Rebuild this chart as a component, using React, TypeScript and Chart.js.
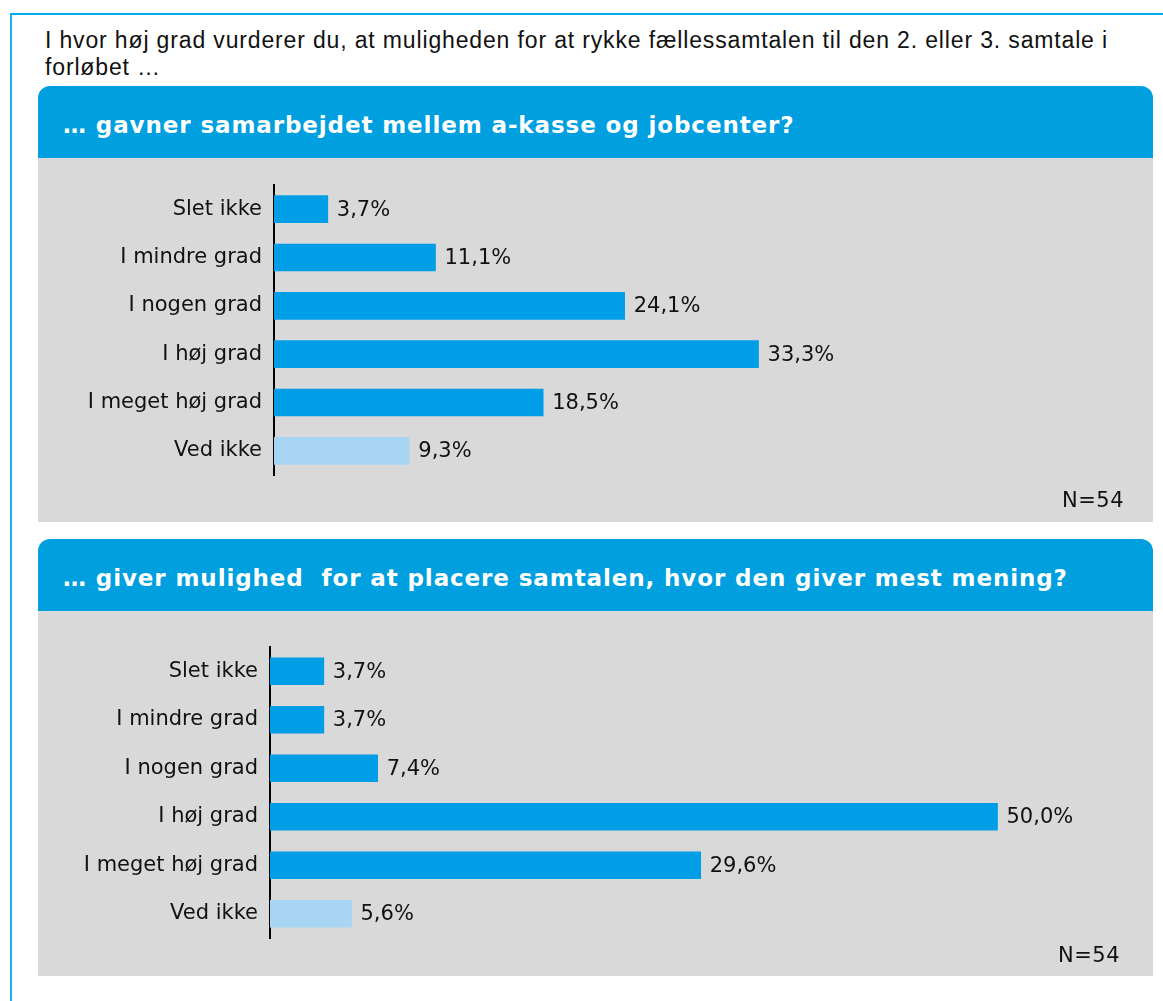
import React, { useEffect, useRef } from "react";
import { Chart, registerables } from "chart.js";

Chart.register(...registerables);

const categories = ["Slet ikke", "I mindre grad", "I nogen grad", "I høj grad", "I meget høj grad", "Ved ikke"];
const values1 = [3.7, 11.1, 24.1, 33.3, 18.5, 9.3];
const values2 = [3.7, 3.7, 7.4, 50.0, 29.6, 5.6];
const barColors = ["#009EE6", "#009EE6", "#009EE6", "#009EE6", "#009EE6", "#A8D5F4"];
const questionLine1 = "I hvor høj grad vurderer du, at muligheden for at rykke fællessamtalen til den 2. eller 3. samtale i";
const questionLine2 = "forløbet …";
const title1 = "… gavner samarbejdet mellem a-kasse og jobcenter?";
const title2 = "… giver mulighed  for at placere samtalen, hvor den giver mest mening?";
const nLabel = "N=54";

const LABEL_FONT = "DejaVu Sans";
const LABEL_SIZE = 21;

const fmt = (v: number) => v.toFixed(1).replace(".", ",") + "%";

const valueLabels = {
  id: "valueLabels",
  afterDatasetsDraw(chart: any) {
    const ctx = chart.ctx;
    ctx.save();
    ctx.font = `${LABEL_SIZE}px "${LABEL_FONT}"`;
    ctx.fillStyle = "#111";
    ctx.textAlign = "left";
    ctx.textBaseline = "middle";
    chart.data.datasets.forEach((ds: any, di: number) => {
      const meta = chart.getDatasetMeta(di);
      meta.data.forEach((bar: any, i: number) => {
        ctx.fillText(fmt(ds.data[i]), bar.x + 9, bar.y + 1);
      });
    });
    ctx.restore();
  },
};

function BarChart({ values, axisX, top, bottom, width, height }: any) {
  const ref = useRef<HTMLCanvasElement>(null);
  useEffect(() => {
    const pxPerUnit = 14.55;
    const max = 60;
    const padRight = width - axisX - max * pxPerUnit;
    const chart = new Chart(ref.current!, {
      type: "bar",
      data: {
        labels: categories,
        datasets: [
          {
            data: values,
            backgroundColor: barColors,
            barThickness: 27,
          },
        ],
      },
      options: {
        indexAxis: "y",
        animation: false,
        responsive: false,
        maintainAspectRatio: false,
        layout: { padding: { left: 0, right: padRight, top, bottom: height - bottom } },
        plugins: { legend: { display: false }, tooltip: { enabled: false } },
        scales: {
          x: { display: false, min: 0, max },
          y: {
            afterFit: (scale: any) => {
              scale.width = axisX;
            },
            grid: { display: false, drawTicks: false },
            border: { display: true, color: "#000", width: 2 },
            ticks: {
              color: "#111",
              padding: 12,
              font: { family: LABEL_FONT, size: LABEL_SIZE },
            },
          },
        },
      },
      plugins: [valueLabels],
    });
    return () => chart.destroy();
  }, []);
  return <canvas ref={ref} width={width} height={height} style={{ display: "block" }} />;
}

export default function App() {
  const panelLeft = 38;
  const panelWidth = 1115;
  const headerStyle: React.CSSProperties = {
    position: "absolute",
    left: panelLeft,
    width: panelWidth,
    height: 72,
    background: "#009FE0",
    borderRadius: "12px 12px 0 0",
  };
  const headerText: React.CSSProperties = {
    position: "absolute",
    left: 25,
    top: 27,
    lineHeight: "24px",
    color: "#fff",
    fontFamily: "DejaVu Sans",
    fontWeight: "bold",
    fontSize: 23,
    letterSpacing: "0.9px",
    whiteSpace: "pre",
  };
  const nStyle: React.CSSProperties = {
    position: "absolute",
    fontFamily: LABEL_FONT,
    fontSize: LABEL_SIZE,
    color: "#111",
    lineHeight: "24px",
    letterSpacing: "0.5px",
  };
  return (
    <div style={{ position: "absolute", left: 0, top: 0, width: 1163, height: 1001, overflow: "hidden", background: "#fff" }}>
      <div
        style={{
          position: "absolute",
          left: 10,
          top: 13,
          width: 1200,
          height: 1100,
          borderLeft: "2px solid #1DB0EE",
          borderTop: "2px solid #00AEEF",
        }}
      />
      <div
        style={{
          position: "absolute",
          left: 45,
          top: 27,
          fontFamily: "Liberation Sans",
          fontSize: 23,
          lineHeight: "27px",
          letterSpacing: "0.85px",
          color: "#111",
          whiteSpace: "nowrap",
        }}
      >
        {questionLine1}
        <br />
        {questionLine2}
      </div>
      <div style={{ ...headerStyle, top: 86 }}>
        <div style={headerText}>{title1}</div>
      </div>
      <div style={{ position: "absolute", left: panelLeft, top: 158, width: panelWidth, height: 364, background: "#D9D9D9" }}>
        <BarChart values={values1} axisX={236} top={27} bottom={317} width={panelWidth} height={364} />
        <div style={{ ...nStyle, left: 1024, top: 330 }}>{nLabel}</div>
      </div>
      <div style={{ ...headerStyle, top: 539 }}>
        <div style={headerText}>{title2}</div>
      </div>
      <div style={{ position: "absolute", left: panelLeft, top: 611, width: panelWidth, height: 365, background: "#D9D9D9" }}>
        <BarChart values={values2} axisX={232} top={36} bottom={327} width={panelWidth} height={365} />
        <div style={{ ...nStyle, left: 1020, top: 332 }}>{nLabel}</div>
      </div>
    </div>
  );
}
